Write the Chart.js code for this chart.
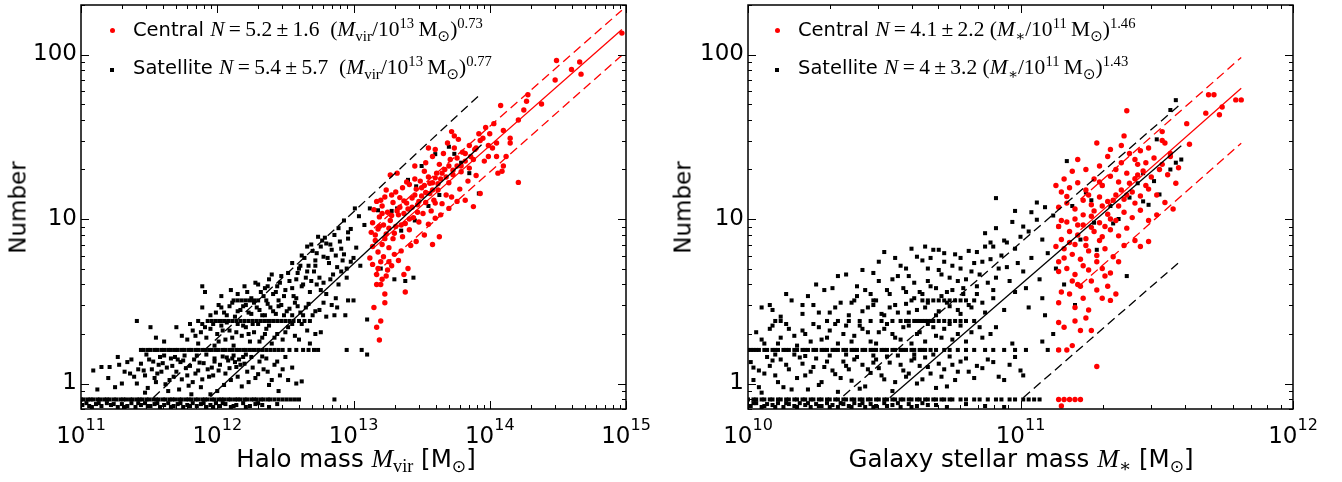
<!DOCTYPE html>
<html>
<head>
<meta charset="utf-8">
<script src="https://cdn.jsdelivr.net/npm/chart.js@4.4.0/dist/chart.umd.min.js"></script>
<style>
  body { margin: 0; background: #fff; width: 1342px; height: 482px; position: relative; overflow: hidden; font-family: "DejaVu Sans", sans-serif; color: #000; }
  .panel { position: absolute; top: 0; height: 482px; }
  .txt { position: absolute; white-space: nowrap; line-height: 22px; font-size: 19.5px; }
  .m { font-family: "Liberation Serif", "DejaVu Serif", serif; font-size: 21.5px; }
  .m i { font-style: italic; }
  .sup { position: relative; top: -0.55em; font-size: 0.68em; }
  .sub { position: relative; top: 0.3em; font-size: 0.7em; }
  .odot { font-family: "DejaVu Sans", sans-serif; }
  .dot { position: absolute; width: 5px; height: 5px; border-radius: 50%; background: #f00; }
  .sq { position: absolute; width: 4px; height: 4px; background: #000; }
  .xt { position: absolute; white-space: nowrap; font-size: 24.5px; line-height: 28px; text-align: center; width: 500px; }
  .xt .m { font-size: 26px; }
  .yt { position: absolute; font-size: 23px; line-height: 27px; width: 200px; text-align: center; transform: rotate(-90deg); }
</style>
</head>
<body>
<div class="panel" style="left:0;width:670px"><canvas id="haloChart" width="670" height="482"></canvas></div>
<div class="panel" style="left:670px;width:672px"><canvas id="starChart" width="672" height="482"></canvas></div>

<!-- left legend -->
<div class="dot" style="left:110px;top:28px"></div>
<div class="txt" style="left:133px;top:18px">Central <span class="m"><i>N</i>&#8201;=&#8201;5.2&#8201;±&#8201;1.6&#8194;(<i>M</i><span class="sub">vir</span>/10<span class="sup">13</span>&#8201;M<span class="sub odot">⊙</span>)<span class="sup">0.73</span></span></div>
<div class="sq" style="left:110px;top:68px"></div>
<div class="txt" style="left:133px;top:56px">Satellite <span class="m"><i>N</i>&#8201;=&#8201;5.4&#8201;±&#8201;5.7&#8194;(<i>M</i><span class="sub">vir</span>/10<span class="sup">13</span>&#8201;M<span class="sub odot">⊙</span>)<span class="sup">0.77</span></span></div>

<!-- right legend -->
<div class="dot" style="left:775px;top:28px"></div>
<div class="txt" style="left:798px;top:18px">Central <span class="m"><i>N</i>&#8201;=&#8201;4.1&#8201;±&#8201;2.2 (<i>M</i><span class="sub">∗</span>/10<span class="sup">11</span>&#8201;M<span class="sub odot">⊙</span>)<span class="sup">1.46</span></span></div>
<div class="sq" style="left:775px;top:68px"></div>
<div class="txt" style="left:798px;top:56px">Satellite <span class="m"><i>N</i>&#8201;=&#8201;4&#8201;±&#8201;3.2 (<i>M</i><span class="sub">∗</span>/10<span class="sup">11</span>&#8201;M<span class="sub odot">⊙</span>)<span class="sup">1.43</span></span></div>

<!-- axis titles -->
<div class="xt" style="left:106px;top:445px">Halo mass <span class="m"><i>M</i><span class="sub">vir</span></span> [M<span class="sub odot" style="font-size:0.7em">⊙</span>]</div>
<div class="xt" style="left:771px;top:445px">Galaxy stellar mass <span class="m"><i>M</i><span class="sub">∗</span></span> [M<span class="sub odot" style="font-size:0.7em">⊙</span>]</div>
<div class="yt" style="left:-82px;top:194px">Number</div>
<div class="yt" style="left:583px;top:194px">Number</div>

<script>
// ---------- data: [log10 mass, number] ----------
// left panel: halo mass
const haloCentral = [
  [13.19,1.84],[13.20,2.4],[13.17,2.2],[13.15,2.9],[13.23,3.1],[13.23,3.5],[13.17,4.0],[13.20,4.0],[13.38,3.6],[13.37,4.6],
  [13.24,4.5],[13.25,4.9],[13.17,4.6],[13.20,5.5],[13.12,5.8],[13.14,6.8],[13.18,6.3],[13.22,5.9],[13.28,5.2],[13.33,5.6],
  [13.40,5.0],[13.30,6.1],[13.16,7.4],[13.21,7.0],[13.26,6.7],[13.35,6.4],[13.42,6.9],[13.13,8.3],[13.18,8.7],[13.24,8.1],
  [13.29,7.6],[13.36,7.8],[13.46,7.3],[13.52,8.0],[13.58,7.0],[13.63,7.8],
  [13.14,9.5],[13.19,10.3],[13.22,9.2],[13.27,9.8],[13.31,9.0],[13.33,10.6],[13.38,9.4],[13.41,8.6],[13.44,10.2],[13.48,9.6],
  [13.51,10.8],[13.55,9.3],[13.57,11.2],[13.60,10.1],[13.15,11.4],[13.21,12.0],[13.25,11.0],[13.29,12.6],[13.34,11.8],[13.37,12.9],
  [13.40,11.5],[13.43,13.4],[13.47,12.2],[13.50,13.8],[13.53,12.6],[13.56,14.3],[13.59,13.0],[13.62,15.0],[13.65,12.4],[13.68,14.0],
  [13.17,12.8],[13.23,13.6],[13.31,14.6],[13.36,15.5],[13.41,16.2],[13.46,15.2],[13.49,17.0],[13.52,16.0],[13.55,18.0],[13.58,16.6],
  [13.61,19.0],[13.64,17.5],[13.67,20.0],[13.70,16.6],[13.73,18.6],[13.76,21.0],[13.79,19.4],[13.82,22.5],[13.85,20.4],[13.88,23.0],
  [13.72,13.6],[13.78,15.2],[13.84,17.0],[13.90,18.4],[13.93,14.3],[13.88,11.9],[13.27,18.5],[13.32,19.0],[13.45,21.0],[13.53,22.0],
  [13.58,24.0],[13.63,21.5],[13.66,25.0],[13.71,23.0],[13.74,27.0],[13.80,25.5],[13.85,28.0],[13.89,26.5],[13.93,30.0],[13.72,34.0],
  [13.74,32.0],[13.69,29.0],[13.77,30.5],[13.60,26.5],[13.55,27.0],[13.39,16.8],[13.24,15.0],[13.47,11.0],[13.64,10.6],[13.70,11.6],
  [13.76,12.8],[13.82,13.0],
  [13.16,8.0],[13.19,9.0],[13.21,10.8],[13.23,7.6],[13.26,8.8],[13.28,10.5],[13.30,8.2],[13.32,11.2],[13.35,9.2],[13.37,10.8],
  [13.39,12.5],[13.41,10.0],[13.43,11.8],[13.45,14.0],[13.48,12.8],[13.50,15.5],[13.53,14.5],[13.56,16.5],[13.58,15.0],[13.60,17.8],
  [13.62,16.4],[13.65,19.0],[13.68,18.0],[13.70,21.0],[13.73,19.8],[13.76,23.5],[13.79,21.0],[13.82,25.0],[13.86,24.0],[13.90,27.0],
  [13.18,5.0],[13.21,4.3],[13.26,5.5],[13.14,5.3],[13.34,13.5],[13.28,14.0],[13.20,13.0],[13.45,17.5],[13.52,19.5],[13.60,12.5],
  [13.96,22.5],[13.99,24],[14.02,27],[14.05,24],[13.99,28],[14.00,33],[14.05,29],[14.06,19],[14.09,19.5],[14.10,21],
  [14.12,24],[14.15,31],[14.15,29],[14.10,34.5],[14.21,16.7],[14.21,40],[14.08,49],[14.25,46],[14.27,52],[14.28,57],
  [14.38,50],[14.48,70],[14.49,92],[14.60,81],[14.66,90],[14.67,76],[14.97,135],[13.95,31],[13.92,33],[14.03,38],[13.97,36]
];
const haloSatellite = [
  [11.09,1.20],[11.21,1.26],[11.28,1.30],[11.30,1.00],[11.34,1.35],[11.36,1.15],[11.41,1.00],[11.47,0.88],[11.54,1.08],[11.56,1.15],
  [11.57,1.30],[11.62,0.99],[11.65,1.05],[11.68,1.10],[11.50,1.40],[11.52,1.22],[11.58,1.45],[11.60,1.33],[11.63,1.25],[11.66,1.42],
  [11.70,1.18],[11.72,0.92],[11.73,1.35],[11.76,1.48],[11.78,1.12],[11.80,1.28],[11.82,1.02],[11.83,1.40],[11.86,1.20],[11.88,0.95],
  [11.90,1.33],[11.92,1.50],[11.94,1.10],[11.96,1.25],[11.98,1.42],[12.00,0.90],[12.02,1.30],[12.04,1.46],[12.06,1.15],[12.08,1.38],
  [12.10,1.05],[12.12,1.48],[12.14,1.26],[12.16,1.40],[12.18,0.96],[12.20,1.32],[12.22,1.18],[12.25,1.45],[12.28,1.08],[12.31,1.36],
  [12.34,1.22],[12.38,0.98],[12.42,1.30],[12.46,1.12],[12.52,1.05],[12.58,1.00],[12.62,1.03],[11.44,1.32],[11.48,1.50],[11.85,1.48],
  [11.98,1.36],[12.07,1.44],[12.13,1.35],[12.19,1.45],[11.75,1.38],[11.69,1.45],[11.15,1.26],[11.25,0.95],[11.39,1.10],[11.46,1.20],
  [11.81,0.86],[12.36,1.42],[12.45,0.90],[12.55,1.25],
  [11.47,1.12],[11.49,0.94],[11.53,1.36],[11.55,1.02],[11.59,1.18],[11.61,1.48],[11.64,0.90],[11.67,1.28],[11.71,1.40],[11.74,1.06],
  [11.77,1.24],[11.79,0.97],[11.84,1.15],[11.87,1.34],[11.89,1.06],[11.93,1.22],[11.95,0.86],[11.97,1.12],[12.01,1.20],[12.05,0.98],
  [12.09,1.24],[12.11,1.42],[12.15,1.10],[12.17,1.30],[12.21,1.50],[12.23,1.02],[12.26,1.25],[12.30,1.14],[12.33,1.46],[12.37,1.18],
  [12.40,1.05],[12.44,1.36],[12.48,1.22],[12.50,1.45],[11.42,1.22],[11.37,1.40],[11.32,1.18],[11.27,1.45],[11.20,1.08],[11.12,0.92],
  [11.51,2.2],[11.61,1.8],[11.70,2.2],[11.74,1.95],[11.78,1.85],[11.82,2.1],[11.86,1.75],[11.89,2.3],[11.92,1.9],[11.95,2.15],
  [11.98,1.7],[12.00,2.0],[12.03,2.25],[12.06,1.85],[12.09,2.1],[12.12,1.7],[12.15,2.3],[12.18,1.95],[12.21,2.2],[12.24,1.8],
  [12.27,2.05],[12.30,2.3],[12.33,1.9],[12.36,2.15],[12.40,1.75],[12.44,2.0],[12.48,1.85],[12.52,2.2],[12.57,1.95],[12.62,2.3],
  [12.66,2.1],[12.72,2.0],[12.76,2.05],[12.68,1.75],[11.41,2.4],[11.55,1.9],
  [11.80,2.3],[11.84,1.95],[11.88,2.05],[11.91,2.2],[11.97,2.3],[12.01,1.8],[12.04,2.1],[12.07,2.35],[12.11,1.9],[12.14,2.05],
  [12.19,2.25],[12.23,2.0],[12.26,2.3],[12.31,1.8],[12.35,2.0],[12.38,2.25],[12.42,1.9],[12.50,2.05],[12.55,2.3],[12.60,1.85],
  [11.89,2.9],[11.95,2.6],[12.01,3.0],[12.05,2.7],[12.09,2.95],[12.13,2.55],[12.17,2.8],[12.21,3.0],[12.25,2.65],[12.29,2.9],
  [12.33,2.6],[12.37,3.05],[12.41,2.75],[12.45,2.95],[12.49,2.6],[12.53,2.85],[12.57,3.1],[12.61,2.7],[12.65,2.9],[12.70,2.6],
  [12.75,2.8],[12.80,2.55],[12.86,2.6],[12.94,2.6],[12.78,3.1],[12.84,3.0],
  [11.99,2.7],[12.03,2.9],[12.07,2.6],[12.11,3.1],[12.15,2.75],[12.19,2.95],[12.23,2.7],[12.27,3.1],[12.31,2.8],[12.35,2.6],
  [12.39,2.9],[12.43,2.65],[12.47,3.0],[12.51,2.75],[12.55,2.6],[12.59,2.95],[12.63,2.6],[12.67,3.05],[12.72,2.75],[12.88,2.9],
  [11.89,3.9],[11.91,3.6],[12.03,3.4],[12.10,3.7],[12.15,3.5],[12.20,3.9],[12.25,3.3],[12.28,4.1],[12.32,3.6],[12.35,3.8],
  [12.38,4.3],[12.41,3.5],[12.44,3.9],[12.47,4.5],[12.50,3.7],[12.53,4.2],[12.56,3.4],[12.59,4.7],[12.62,3.9],[12.65,4.4],
  [12.68,3.6],[12.71,4.8],[12.73,4.0],[12.76,3.7],[12.80,3.5],[12.83,4.3],[12.87,3.3],[12.91,4.8],[12.96,3.2],[13.00,3.2],
  [12.45,3.2],[12.58,3.3],
  [12.22,3.6],[12.30,4.0],[12.34,3.4],[12.37,3.9],[12.40,4.6],[12.43,3.6],[12.46,4.1],[12.49,3.4],[12.52,4.7],[12.55,3.8],
  [12.58,4.3],[12.61,5.2],[12.63,4.0],[12.66,4.8],[12.69,4.2],[12.72,5.2],[12.75,4.4],[12.78,4.1],[12.81,5.8],[12.85,4.6],
  [12.89,4.0],[12.92,5.6],[12.95,4.4],[12.62,6.0],[12.66,6.8],[12.73,6.2],[12.77,7.4],[12.83,7.0],[12.87,6.0],[12.91,6.6],
  [12.95,5.0],[13.00,5.8],
  [12.55,5.4],[12.60,5.0],[12.64,5.8],[12.67,5.2],[12.70,6.4],[12.72,5.6],[12.74,7.8],[12.76,6.8],[12.78,5.9],[12.80,7.1],
  [12.82,5.4],[12.84,6.5],[12.86,8.0],[12.88,5.1],[12.90,7.3],[12.93,6.1],[12.96,7.6],[12.98,5.5],[12.79,7.7],[12.69,7.0],
  [13.02,6.7],[13.05,5.2],
  [12.89,8.8],[12.93,9.8],[12.96,8.3],[12.98,8.7],[13.01,11.6],[13.04,10.4],[13.12,11.6],[13.18,11.3],[13.08,9.2],[13.32,11.6],
  [13.10,2.45],[13.10,1.5],[13.30,4.3],[13.44,4.4],[13.38,4.2],[13.20,5.0],[13.35,8.5],[13.45,9.8],[13.28,11.2],[13.40,17.3],
  [13.46,15.8],[13.50,21],[13.60,24.8],[13.70,27.5],[13.74,24.9],[13.63,14],[13.92,14.3],[13.55,12],[13.79,22],[13.85,19]
];
// satellites sitting just below the N = 0.8 row
const haloSatelliteLow = [
  [11.01,0.74],[11.04,0.76],[11.08,0.72],[11.11,0.75],[11.15,0.73],[11.19,0.76],[11.22,0.74],[11.27,0.72],[11.30,0.75],[11.34,0.73],
  [11.37,0.76],[11.40,0.72],[11.44,0.74],[11.47,0.76],[11.51,0.73],[11.54,0.75],[11.58,0.72],[11.61,0.74],[11.64,0.76],[11.68,0.73],
  [11.71,0.75],[11.75,0.72],[11.78,0.74],[11.82,0.76],[11.85,0.73],[11.88,0.75],[11.92,0.72],[11.95,0.74],[11.99,0.76],[12.02,0.73],
  [12.06,0.75],[12.10,0.72],[12.14,0.74],[12.19,0.76],[12.24,0.73],[12.28,0.75],[12.33,0.74],[12.38,0.72],[12.44,0.75],
  [11.06,0.73],[11.13,0.76],[11.24,0.75],[11.32,0.72],[11.42,0.76],[11.49,0.73],[11.56,0.76],[11.66,0.72],[11.73,0.76],[11.80,0.73],
  [11.90,0.76],[11.97,0.72],[12.04,0.76],[12.12,0.73],[12.21,0.72],[12.30,0.76]
];
// satellites lying on the quantised rows N = 0.8, 1.6, 2.4, 3.2 (log10 Mvir only)
const rowLevels = [0.8, 1.6, 2.4, 3.2];
const haloSatelliteRows = [
  [11.00,11.02,11.05,11.07,11.09,11.12,11.14,11.17,11.19,11.21,11.24,11.26,11.29,11.31,11.33,11.36,11.38,11.41,11.43,11.45,
   11.48,11.50,11.53,11.55,11.57,11.60,11.62,11.65,11.67,11.69,11.72,11.74,11.77,11.79,11.81,11.84,11.86,11.89,11.91,11.93,
   11.96,11.98,12.01,12.03,12.05,12.08,12.10,12.13,12.15,12.17,12.20,12.22,12.25,12.27,12.29,12.32,12.34,12.37,12.39,12.42,
   12.45,12.48,12.51,12.54,12.57,12.60,12.86],
  [11.44,11.46,11.49,11.51,11.54,11.56,11.59,11.61,11.64,11.66,11.69,11.71,11.74,11.76,11.79,11.81,11.84,11.86,11.89,11.91,
   11.94,11.96,11.99,12.01,12.04,12.06,12.09,12.11,12.14,12.16,12.19,12.21,12.24,12.27,12.30,12.33,12.36,12.39,12.42,12.45,
   12.48,12.53,12.58,12.63,12.67,12.71,12.74,12.95,13.06],
  [11.86,11.93,11.96,11.99,12.02,12.05,12.08,12.11,12.14,12.17,12.20,12.23,12.26,12.29,12.32,12.35,12.38,12.41,12.44,12.47,
   12.50,12.53,12.56,12.60,12.64,12.68],
  [12.12,12.15,12.18,12.21,12.24,12.27,12.30,12.36]
];
// fitted relations, end points [log10 Mvir, N]
const haloCentralFit   = [[13.15, 6.7], [14.97, 142]];
const haloCentralUpper = [[13.15, 8.8], [14.97, 186]];
const haloCentralLower = [[13.15, 4.6], [14.97, 99]];
const haloSatFit       = [[11.95, 0.83], [13.94, 28.3]];
const haloSatUpper     = [[11.53, 0.82], [13.94, 58.3]];

// right panel: galaxy stellar mass
const starCentral = [
  [11.14,0.8],[11.16,0.8],[11.18,0.8],[11.20,0.8],[11.22,0.8],[11.15,0.73],[11.28,1.27],[11.14,1.6],[11.17,1.6],[11.19,1.7],
  [11.14,2.35],[11.16,2.2],[11.20,2.4],[11.22,2.1],[11.24,2.5],[11.26,2.1],[11.14,3.1],[11.20,2.9],[11.25,2.8],[11.30,3.3],
  [11.33,3.2],[11.32,3.9],[11.15,3.6],[11.18,3.5],[11.22,3.9],[11.28,3.7],[11.26,4.2],[11.31,4.5],[11.35,3.5],
  [11.14,4.8],[11.17,5.0],[11.20,4.6],[11.23,5.2],[11.25,4.9],[11.28,5.5],[11.30,5.0],[11.33,4.7],[11.16,5.8],[11.19,6.1],
  [11.22,5.7],[11.25,6.4],[11.28,6.0],[11.31,6.6],[11.34,5.9],[11.36,5.5],[11.38,6.9],[11.13,6.8],[11.15,7.5],[11.18,7.2],
  [11.21,8.0],[11.24,7.6],[11.27,8.4],[11.30,7.8],[11.33,8.6],[11.36,7.9],[11.39,8.8],[11.42,7.4],[11.44,6.8],[11.47,7.3],
  [11.14,9.0],[11.17,9.6],[11.20,10.0],[11.23,9.2],[11.26,10.4],[11.29,9.5],[11.32,10.7],[11.35,9.8],[11.38,11.0],[11.41,10.2],
  [11.44,11.3],[11.47,9.8],[11.50,10.6],[11.14,11.8],[11.17,12.5],[11.20,11.5],[11.23,13.0],[11.26,12.2],[11.29,13.6],[11.32,12.8],
  [11.35,14.0],[11.38,13.2],[11.41,14.6],[11.44,13.8],[11.47,15.2],[11.50,14.0],[11.53,12.6],[11.56,11.5],[11.15,14.6],[11.18,15.5],
  [11.21,16.6],[11.24,15.0],[11.27,17.5],[11.30,16.0],[11.33,18.2],[11.36,16.8],[11.39,19.0],[11.42,17.6],[11.45,19.6],[11.48,18.0],
  [11.51,20.0],[11.54,18.6],[11.57,16.5],[11.19,19.5],[11.29,21],[11.32,24],[11.37,22],[11.40,25],[11.43,21.5],[11.46,22],
  [11.49,23.5],[11.52,21.5],[11.55,24],[11.58,20.5],[11.28,29],[11.37,28],[11.38,32],[11.39,45.5],[11.52,30],[11.53,29],
  [11.55,25],[11.52,34],[11.61,38],[11.62,28.5],[11.68,44],[11.73,43],[11.74,48],[11.69,57],[11.71,57],[11.79,53],
  [11.81,53],[11.44,26],[11.47,27],[11.33,26.5],[11.24,20],[11.21,23],[11.16,17.5],[11.13,16],
  [11.14,5.5],[11.16,6.6],[11.18,8.4],[11.20,7.0],[11.21,9.2],[11.23,10.6],[11.24,6.9],[11.26,8.9],[11.27,11.2],[11.29,7.4],
  [11.30,12.0],[11.31,9.0],[11.33,10.0],[11.34,13.0],[11.36,12.0],[11.37,15.0],[11.39,14.0],[11.40,16.5],[11.42,12.5],[11.43,18.5],
  [11.46,16.0],[11.17,13.7],[11.19,4.2],[11.21,4.0],[11.23,3.3],[11.15,9.8],[11.25,14.0],[11.29,16.8],[11.35,20.0],[11.42,23.0]
];
const starSatellite = [
  [10.01,1.35],[10.02,1.05],[10.04,1.20],[10.05,0.88],[10.07,1.45],[10.08,1.28],[10.10,1.12],[10.12,1.40],[10.13,0.95],[10.15,1.22],
  [10.17,1.50],[10.18,1.08],[10.20,1.32],[10.22,0.92],[10.23,1.18],[10.25,1.42],[10.27,1.02],[10.28,1.26],[10.30,1.48],[10.32,1.14],
  [10.33,0.89],[10.35,1.36],[10.37,1.22],[10.38,1.04],[10.40,1.45],[10.42,1.30],[10.43,0.96],[10.45,1.16],[10.47,1.40],[10.48,1.24],
  [10.50,1.06],[10.52,1.34],[10.53,0.90],[10.55,1.48],[10.57,1.20],[10.58,1.10],[10.60,1.38],[10.62,1.00],[10.63,1.28],[10.65,1.44],
  [10.67,1.15],[10.69,0.94],[10.70,1.32],[10.72,1.22],[10.74,1.46],[10.76,1.05],[10.78,1.36],[10.81,1.18],[10.84,1.28],[10.88,1.40],
  [10.92,1.10],[10.96,1.30],[11.00,1.20],[11.01,1.12],[10.21,1.47],[10.36,1.50],[10.46,1.48],[10.61,1.50],[10.10,1.50],
  [10.02,1.25],[10.04,0.95],[10.06,1.15],[10.09,1.38],[10.11,1.02],[10.14,1.30],[10.16,0.92],[10.19,1.44],[10.21,1.12],[10.24,1.26],
  [10.26,0.98],[10.29,1.36],[10.31,1.20],[10.34,1.08],[10.36,1.28],[10.39,1.40],[10.41,0.93],[10.44,1.22],[10.46,1.34],[10.49,1.12],
  [10.51,1.46],[10.54,1.02],[10.56,1.30],[10.59,1.15],[10.61,1.42],[10.64,1.06],[10.66,1.26],[10.68,1.50],[10.71,1.10],[10.73,0.96],
  [10.75,1.30],[10.77,1.18],[10.80,1.42],[10.83,1.08],[10.86,1.24],[10.90,1.35],[10.94,1.05],[10.98,1.45],
  [10.03,2.05],[10.06,1.75],[10.09,2.25],[10.12,1.90],[10.15,2.15],[10.18,1.70],[10.21,2.00],[10.24,2.30],[10.27,1.85],[10.30,2.10],
  [10.33,1.75],[10.36,2.25],[10.39,1.95],[10.42,2.15],[10.45,1.80],[10.48,2.05],[10.51,2.30],[10.54,1.90],[10.57,2.20],[10.60,1.75],
  [10.63,2.05],[10.66,2.30],[10.69,1.95],[10.72,2.15],[10.75,1.85],[10.78,2.25],[10.82,2.05],[10.86,1.90],[10.91,2.20],[10.97,1.75],
  [11.08,1.80],[11.12,2.00],
  [10.05,1.85],[10.08,2.15],[10.11,1.75],[10.14,2.3],[10.17,1.95],[10.20,2.1],[10.23,1.8],[10.26,2.2],[10.29,1.9],[10.32,2.3],
  [10.35,2.0],[10.38,1.8],[10.41,2.25],[10.44,2.05],[10.47,1.75],[10.50,2.15],[10.53,2.0],[10.56,1.85],[10.59,2.25],[10.62,2.0],
  [10.65,1.8],[10.68,2.2],[10.71,1.9],[10.74,2.3],[10.77,2.0],[10.80,1.8],[10.85,2.2],[10.89,2.0],
  [10.05,2.9],[10.09,2.8],[10.12,2.55],[10.16,3.2],[10.20,2.65],[10.24,3.0],[10.28,3.7],[10.31,3.8],[10.30,2.7],[10.34,3.1],
  [10.37,2.6],[10.40,3.4],[10.43,3.7],[10.44,2.9],[10.47,3.2],[10.50,2.6],[10.52,3.5],[10.54,3.0],[10.57,3.8],[10.59,2.7],
  [10.61,3.3],[10.63,3.6],[10.65,2.9],[10.67,3.9],[10.69,2.6],[10.71,3.4],[10.73,3.1],[10.75,3.7],[10.77,2.8],[10.79,3.5],
  [10.81,3.0],[10.84,3.9],[10.87,2.7],[10.90,3.3],[10.94,2.8],[10.98,3.6],[11.03,2.9],[11.09,2.6],[11.08,3.3],
  [10.20,3.0],[10.26,2.7],[10.32,2.9],[10.38,3.1],[10.42,2.75],[10.46,3.0],[10.49,2.65],[10.52,2.9],[10.55,2.7],[10.58,3.05],
  [10.62,2.8],[10.66,3.1],[10.70,2.75],[10.74,2.95],[10.78,2.65],[10.82,2.9],[10.86,3.1],
  [10.36,4.6],[10.46,4.7],[10.50,6.3],[10.53,4.3],[10.56,5.2],[10.59,4.5],[10.62,5.9],[10.64,5.6],[10.66,4.2],[10.68,6.5],
  [10.70,4.9],[10.72,5.5],[10.74,4.4],[10.76,6.1],[10.78,5.0],[10.80,4.3],[10.81,6.4],[10.83,5.4],[10.85,4.6],[10.87,6.8],
  [10.89,5.7],[10.91,4.4],[10.93,6.0],[10.95,5.1],[10.98,6.6],[11.01,4.8],[11.04,5.8],[11.07,4.3],[11.10,6.2],[10.60,6.6],
  [10.65,6.8],[10.70,6.5],
  [10.40,3.9],[10.45,3.5],[10.48,4.2],[10.51,3.7],[10.55,4.5],[10.58,3.6],[10.61,4.1],[10.64,3.5],[10.66,5.0],[10.69,3.8],
  [10.71,4.6],[10.73,3.6],[10.75,5.2],[10.77,4.2],[10.79,3.8],[10.82,4.8],[10.84,3.5],[10.86,5.5],[10.88,4.1],[10.90,3.7],
  [10.92,5.0],[10.96,4.2],[10.99,5.4],[11.02,3.8],[10.67,5.8],[10.72,6.2],[10.78,5.8],[10.84,6.3],[10.90,6.8],[10.95,7.2],
  [10.58,5.0],[10.54,5.8],[10.48,5.5],[10.42,4.9],[10.33,4.5],[10.25,4.0],[10.22,3.4],[10.14,3.5],[10.08,3.0],
  [10.87,8.2],[10.91,13.4],[10.98,11.2],[11.01,9.0],[11.04,11.0],[11.09,11.8],[10.91,8.8],[10.94,7.4],[10.97,9.6],[11.00,7.8],
  [11.03,8.4],[11.06,9.9],[11.08,7.5],[11.12,10.5],[10.89,7.2],[11.06,12.6],
  [11.17,22.5],[11.26,13],[11.34,9.4],[11.47,12.2],[11.51,14.1],[11.57,52.8],[11.59,23],[11.57,22],[11.14,9.0],[11.19,12.0],
  [11.22,7.5],[11.24,14.5],[11.27,9.5],[11.30,16],[11.33,12],[11.36,10],[11.40,13.5],[11.43,16.5],[11.45,19],[11.49,17],
  [11.55,20],[11.13,5.0],[11.20,3.0],[11.28,6.5],[11.39,4.5],[11.16,4.0],[11.45,12.8],[11.50,30.5],[11.55,46]
];
const starSatelliteLow = [
  [10.01,0.73],[10.03,0.76],[10.05,0.72],[10.07,0.75],[10.09,0.74],[10.11,0.76],[10.13,0.72],[10.15,0.75],[10.17,0.73],[10.19,0.76],
  [10.21,0.74],[10.23,0.72],[10.25,0.75],[10.27,0.73],[10.29,0.76],[10.31,0.74],[10.33,0.72],[10.35,0.75],[10.37,0.73],[10.39,0.76],
  [10.41,0.74],[10.43,0.72],[10.45,0.75],[10.47,0.73],[10.50,0.76],[10.53,0.74],[10.56,0.72],[10.59,0.75],[10.62,0.73],[10.66,0.74],
  [10.73,0.72],[10.80,0.75],[10.87,0.73],[10.94,0.72],
  [10.02,0.76],[10.06,0.73],[10.10,0.72],[10.14,0.76],[10.18,0.72],[10.22,0.76],[10.26,0.73],[10.30,0.72],[10.34,0.76],[10.38,0.72],
  [10.42,0.76],[10.46,0.72],[10.51,0.73],[10.55,0.76],[10.60,0.72],[10.64,0.76],[10.69,0.74]
];
const starSatelliteRows = [
  [10.00,10.02,10.03,10.05,10.06,10.08,10.09,10.11,10.12,10.14,10.15,10.17,10.18,10.20,10.21,10.23,10.24,10.26,10.27,10.29,
   10.30,10.32,10.33,10.35,10.36,10.38,10.39,10.41,10.42,10.44,10.45,10.47,10.48,10.50,10.51,10.53,10.54,10.56,10.57,10.59,
   10.60,10.62,10.63,10.65,10.66,10.68,10.69,10.71,10.72,10.74,10.75,10.78,10.80,10.83,10.85,10.88,10.91,10.93,10.96,10.98,
   11.01,11.03,11.05,11.07],
  [10.00,10.01,10.02,10.03,10.04,10.06,10.07,10.09,10.10,10.11,10.13,10.14,10.15,10.17,10.18,10.20,10.21,10.22,10.24,10.25,
   10.27,10.28,10.29,10.31,10.32,10.33,10.35,10.36,10.38,10.39,10.40,10.42,10.43,10.45,10.46,10.47,10.49,10.50,10.51,10.53,
   10.54,10.56,10.57,10.58,10.60,10.61,10.63,10.64,10.65,10.67,10.69,10.72,10.74,10.77,10.80,10.83,10.87,10.90,10.94,
   10.98,11.02,11.10,11.14],
  [10.10,10.12,10.29,10.33,10.37,10.41,10.45,10.49,10.53,10.56,10.58,10.59,10.61,10.62,10.63,10.64,10.65,10.66,10.67,10.68,
   10.70,10.72,10.74,10.76,10.78,10.80,10.83],
  [10.39,10.46,10.60,10.64,10.66,10.68,10.70,10.72,10.74,10.76,10.78,10.80,10.83]
];
const starCentralFit   = [[11.22, 8.59], [11.81, 62.4]];
const starCentralUpper = [[11.22, 13.2], [11.81, 96]];
const starCentralLower = [[11.22, 3.98], [11.81, 28.9]];
const starSatFit       = [[10.52, 0.82], [11.59, 27.9]];
const starSatUpper     = [[10.35, 0.84], [11.59, 50.3]];
const starSatLower     = [[11.01, 0.82], [11.59, 5.6]];

// ---------- helpers ----------
const toPts = arr => arr.map(p => ({ x: Math.pow(10, p[0]), y: p[1] }));
function satPoints(scatter, low, rows) {
  let pts = toPts(scatter).concat(toPts(low));
  rows.forEach((row, i) => {
    pts = pts.concat(row.map(lm => ({ x: Math.pow(10, lm), y: rowLevels[i] })));
  });
  return pts;
}

function logTicks(min, max) {
  const out = [];
  for (let d = Math.floor(Math.log10(min)); d <= Math.ceil(Math.log10(max)); d++) {
    for (let k = 1; k <= 9; k++) {
      const v = k * Math.pow(10, d);
      if (v >= min * 0.999 && v <= max * 1.001) out.push({ v, d, major: k === 1 });
    }
  }
  return out;
}

// frame, inward ticks on all four sides and tick labels
const axisDecor = {
  id: 'axisDecor',
  afterDatasetsDraw(chart) {
    const { ctx, chartArea: a, scales: { x, y } } = chart;
    const xt = logTicks(x.min, x.max), yt = logTicks(y.min, y.max);
    ctx.save();
    ctx.strokeStyle = '#000';
    ctx.lineWidth = 1;
    ctx.beginPath();
    xt.forEach(t => {
      const px = Math.round(x.getPixelForValue(t.v)) + 0.5, len = t.major ? 8 : 4;
      ctx.moveTo(px, a.bottom); ctx.lineTo(px, a.bottom - len);
      ctx.moveTo(px, a.top); ctx.lineTo(px, a.top + len);
    });
    yt.forEach(t => {
      const py = Math.round(y.getPixelForValue(t.v)) + 0.5, len = t.major ? 8 : 4;
      ctx.moveTo(a.left, py); ctx.lineTo(a.left + len, py);
      ctx.moveTo(a.right, py); ctx.lineTo(a.right - len, py);
    });
    ctx.stroke();
    ctx.lineWidth = 1.5;
    ctx.strokeRect(a.left, a.top, a.right - a.left, a.bottom - a.top);

    ctx.fillStyle = '#000';
    ctx.font = '23px "DejaVu Sans"';
    ctx.textAlign = 'right';
    ctx.textBaseline = 'middle';
    yt.filter(t => t.major).forEach(t => ctx.fillText(String(t.v), a.left - 4, y.getPixelForValue(t.v)));

    ctx.textAlign = 'left';
    ctx.textBaseline = 'alphabetic';
    xt.filter(t => t.major).forEach(t => {
      const px = x.getPixelForValue(t.v);
      ctx.font = '23px "DejaVu Sans"';
      const w1 = ctx.measureText('10').width;
      ctx.font = '16px "DejaVu Sans"';
      const w2 = ctx.measureText(String(t.d)).width;
      const x0 = px - (w1 + w2) / 2;
      ctx.font = '23px "DejaVu Sans"';
      ctx.fillText('10', x0, a.bottom + 34);
      ctx.font = '16px "DejaVu Sans"';
      ctx.fillText(String(t.d), x0 + w1, a.bottom + 21);
    });
    ctx.restore();
  }
};

function lineSet(ends, color, dashed) {
  return {
    data: toPts(ends), showLine: true, pointRadius: 0, borderColor: color,
    borderWidth: 1.3, borderDash: dashed ? [9, 5] : [], order: 0, clip: 0
  };
}

function makeChart(id, xMin, xMax, yAxisWidth, rightPad, central, satellite, lines) {
  return new Chart(document.getElementById(id), {
    type: 'scatter',
    data: {
      datasets: [
        ...lines,
        { data: central, pointStyle: 'circle', pointRadius: 2.7, backgroundColor: '#ff0000', borderWidth: 0, order: 1, clip: 0 },
        { data: satellite, pointStyle: 'rect', pointRadius: 2.85, backgroundColor: '#000000', borderWidth: 0, order: 2, clip: 0 }
      ]
    },
    options: {
      responsive: false,
      animation: false,
      events: [],
      layout: { autoPadding: false, padding: { top: 5, right: rightPad, left: 0, bottom: 0 } },
      plugins: { legend: { display: false }, tooltip: { enabled: false } },
      scales: {
        x: {
          type: 'logarithmic', min: xMin, max: xMax,
          ticks: { display: false }, grid: { display: false }, border: { display: false },
          afterFit(scale) { scale.height = 73; }
        },
        y: {
          type: 'logarithmic', min: 0.715, max: 200,
          ticks: { display: false }, grid: { display: false }, border: { display: false },
          afterFit(scale) { scale.width = yAxisWidth; }
        }
      }
    },
    plugins: [axisDecor]
  });
}

makeChart('haloChart', 1e11, 1e15, 81, 44,
  toPts(haloCentral),
  satPoints(haloSatellite, haloSatelliteLow, haloSatelliteRows),
  [
    lineSet(haloSatFit, '#000', false), lineSet(haloSatUpper, '#000', true),
    lineSet(haloCentralFit, '#ff0000', false), lineSet(haloCentralUpper, '#ff0000', true), lineSet(haloCentralLower, '#ff0000', true)
  ]);

makeChart('starChart', 1e10, 1e12, 78, 49,
  toPts(starCentral),
  satPoints(starSatellite, starSatelliteLow, starSatelliteRows),
  [
    lineSet(starSatFit, '#000', false), lineSet(starSatUpper, '#000', true), lineSet(starSatLower, '#000', true),
    lineSet(starCentralFit, '#ff0000', false), lineSet(starCentralUpper, '#ff0000', true), lineSet(starCentralLower, '#ff0000', true)
  ]);
</script>
</body>
</html>
